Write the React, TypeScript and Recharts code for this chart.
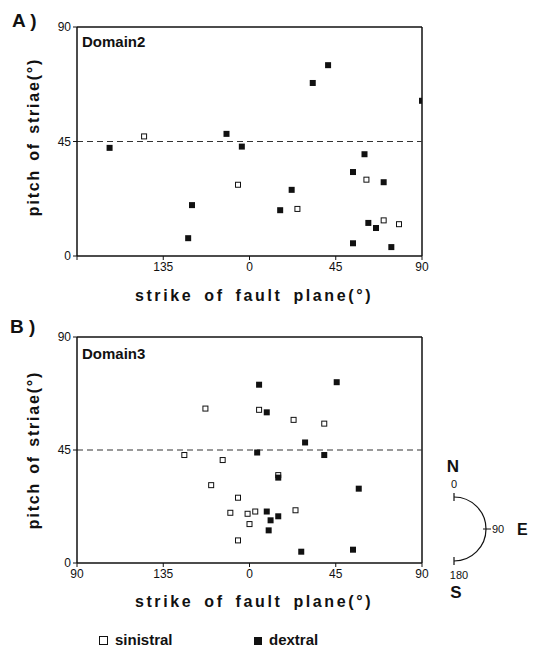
import React from 'react';
import { ScatterChart, Scatter, XAxis, YAxis, ZAxis, ReferenceLine } from 'recharts';

// strike (deg) and pitch of striae (deg)
const domain2Sinistral = [
  { strike: 125, pitch: 47 },
  { strike: 174, pitch: 28 },
  { strike: 61, pitch: 30 },
  { strike: 70, pitch: 14 },
  { strike: 78, pitch: 12.5 },
  { strike: 25, pitch: 18.5 },
];
const domain2Dextral = [
  { strike: 107, pitch: 42.5 },
  { strike: 168, pitch: 48 },
  { strike: 176, pitch: 43 },
  { strike: 150, pitch: 20 },
  { strike: 148, pitch: 7 },
  { strike: 41, pitch: 75 },
  { strike: 33, pitch: 68 },
  { strike: 90, pitch: 61 },
  { strike: 60, pitch: 40 },
  { strike: 54, pitch: 33 },
  { strike: 70, pitch: 29 },
  { strike: 22, pitch: 26 },
  { strike: 16, pitch: 18 },
  { strike: 62, pitch: 13 },
  { strike: 66, pitch: 11 },
  { strike: 54, pitch: 5 },
  { strike: 74, pitch: 3.5 },
];
const domain3Sinistral = [
  { strike: 157, pitch: 61.5 },
  { strike: 5, pitch: 61 },
  { strike: 146, pitch: 43 },
  { strike: 166, pitch: 41 },
  { strike: 160, pitch: 31 },
  { strike: 174, pitch: 26 },
  { strike: 170, pitch: 20 },
  { strike: 179, pitch: 19.6 },
  { strike: 3, pitch: 20.5 },
  { strike: 180, pitch: 15.5 },
  { strike: 174, pitch: 9 },
  { strike: 23, pitch: 57 },
  { strike: 39, pitch: 55.5 },
  { strike: 15, pitch: 35 },
  { strike: 24, pitch: 21 },
];
const domain3Dextral = [
  { strike: 5, pitch: 71 },
  { strike: 9, pitch: 60 },
  { strike: 4, pitch: 44 },
  { strike: 9, pitch: 20.5 },
  { strike: 11, pitch: 17 },
  { strike: 10, pitch: 13 },
  { strike: 45.5, pitch: 72 },
  { strike: 29, pitch: 48 },
  { strike: 39, pitch: 43 },
  { strike: 15, pitch: 34 },
  { strike: 57, pitch: 29.6 },
  { strike: 15, pitch: 18.6 },
  { strike: 27, pitch: 4.5 },
  { strike: 54, pitch: 5.3 },
];

// axis runs 90 -> 135 -> 180/0 -> 45 -> 90
const axisTicks = [0, 45, 90, 135, 180];
const axisTickLabels = ['90', '135', '0', '45', '90'];
const pitchTicks = [0, 45, 90];

const toAxis = (rows: { strike: number; pitch: number }[]) =>
  rows.map((r) => ({ x: r.strike > 90 ? r.strike - 90 : r.strike + 90, y: r.pitch }));

const FONT = '"Liberation Sans", Arial, sans-serif';
const ink = '#111';

const Square = (props: any) => {
  const { cx, cy, open } = props;
  if (cx == null || cy == null) return null;
  return open ? (
    <rect x={cx - 2.5} y={cy - 2.5} width={5} height={5} fill="#fff" stroke={ink} strokeWidth={1} />
  ) : (
    <rect x={cx - 3} y={cy - 3} width={6} height={6} fill={ink} />
  );
};

function Panel({ sinistral, dextral, hideFirstTick, bottom }: any) {
  return (
    <ScatterChart width={533} height={300} margin={{ top: 37, left: 47, right: 111, bottom }}>
      <XAxis
        type="number"
        dataKey="x"
        domain={[0, 180]}
        ticks={axisTicks}
        tickFormatter={(v: number, i: number) => (hideFirstTick && i === 0 ? '' : axisTickLabels[axisTicks.indexOf(v)])}
        height={20}
        tickSize={4}
        tickMargin={2}
        axisLine={{ stroke: ink, strokeWidth: 1.5 }}
        tickLine={{ stroke: ink }}
        tick={{ fill: ink, fontSize: 12, fontFamily: FONT }}
        allowDataOverflow
      />
      <YAxis
        type="number"
        dataKey="y"
        domain={[0, 90]}
        ticks={pitchTicks}
        width={30}
        tickSize={4}
        tickMargin={2}
        axisLine={{ stroke: ink, strokeWidth: 1.5 }}
        tickLine={{ stroke: ink }}
        tick={{ fill: ink, fontSize: 12, fontFamily: FONT }}
      />
      <ZAxis range={[25, 25]} />
      <ReferenceLine y={90} stroke={ink} strokeWidth={1.5} />
      <ReferenceLine x={180} stroke={ink} strokeWidth={1.5} />
      <ReferenceLine y={45} stroke="#333" strokeDasharray="6 4" strokeWidth={1} />
      <Scatter data={toAxis(sinistral)} isAnimationActive={false} shape={(p: any) => <Square {...p} open />} />
      <Scatter data={toAxis(dextral)} isAnimationActive={false} shape={(p: any) => <Square {...p} />} />
    </ScatterChart>
  );
}

const abs = (left: number, top: number, extra: React.CSSProperties = {}): React.CSSProperties => ({
  position: 'absolute',
  left,
  top,
  fontFamily: FONT,
  color: ink,
  whiteSpace: 'nowrap',
  ...extra,
});

const yLabel = (cy: number) => (
  <div
    style={abs(34, cy, {
      transform: 'translate(-50%, -50%) rotate(-90deg)',
      fontWeight: 700,
      fontSize: 16,
      letterSpacing: 1.8,
      wordSpacing: 2,
    })}
  >
    pitch of striae(°)
  </div>
);

const xLabel = (cy: number) => (
  <div
    style={abs(254, cy, {
      transform: 'translate(-50%, -50%)',
      fontWeight: 700,
      fontSize: 16,
      letterSpacing: 2.6,
      wordSpacing: 4,
    })}
  >
    strike of fault plane(°)
  </div>
);

export default function App() {
  return (
    <div style={{ position: 'absolute', left: 0, top: 0, width: 533, height: 648, background: '#fff', overflow: 'hidden' }}>
      <div style={{ position: 'absolute', left: 0, top: -10 }}>
        <Panel sinistral={domain2Sinistral} dextral={domain2Dextral} hideFirstTick bottom={14} />
      </div>
      <div style={{ position: 'absolute', left: 0, top: 300 }}>
        <Panel sinistral={domain3Sinistral} dextral={domain3Dextral} bottom={17} />
      </div>

      <div style={abs(12, 10, { fontWeight: 700, fontSize: 19 })}>A )</div>
      <div style={abs(82, 33, { fontWeight: 700, fontSize: 15 })}>Domain2</div>
      {yLabel(137)}
      {xLabel(296)}

      <div style={abs(10, 316, { fontWeight: 700, fontSize: 19 })}>B )</div>
      <div style={abs(82, 345, { fontWeight: 700, fontSize: 15 })}>Domain3</div>
      {yLabel(450)}
      {xLabel(602)}

      <div style={abs(99, 631, { fontSize: 15, fontWeight: 700 })}>
        <span style={{ display: 'inline-block', width: 7, height: 7, border: `1px solid ${ink}`, marginRight: 7 }} />
        sinistral
      </div>
      <div style={abs(254, 631, { fontSize: 15, fontWeight: 700 })}>
        <span style={{ display: 'inline-block', width: 8, height: 8, background: ink, marginRight: 7 }} />
        dextral
      </div>

      <svg style={{ position: 'absolute', left: 0, top: 0 }} width={533} height={648}>
        <g fontFamily={FONT} fill={ink}>
          <text x={453} y={472} fontSize={17} fontWeight={700} textAnchor="middle">N</text>
          <text x={454} y={488} fontSize={11} textAnchor="middle">0</text>
          <path d="M 454 497 A 32 32 0 0 1 454 561" fill="none" stroke={ink} strokeWidth={1.2} />
          <line x1={454} y1={493} x2={454} y2={501} stroke={ink} strokeWidth={1.2} />
          <line x1={454} y1={557} x2={454} y2={565} stroke={ink} strokeWidth={1.2} />
          <line x1={483} y1={529} x2={491} y2={529} stroke={ink} strokeWidth={1} />
          <text x={492} y={533} fontSize={11}>90</text>
          <text x={517} y={535} fontSize={16} fontWeight={700}>E</text>
          <text x={459} y={579} fontSize={11} textAnchor="middle">180</text>
          <text x={456} y={598} fontSize={17} fontWeight={700} textAnchor="middle">S</text>
        </g>
      </svg>
    </div>
  );
}
